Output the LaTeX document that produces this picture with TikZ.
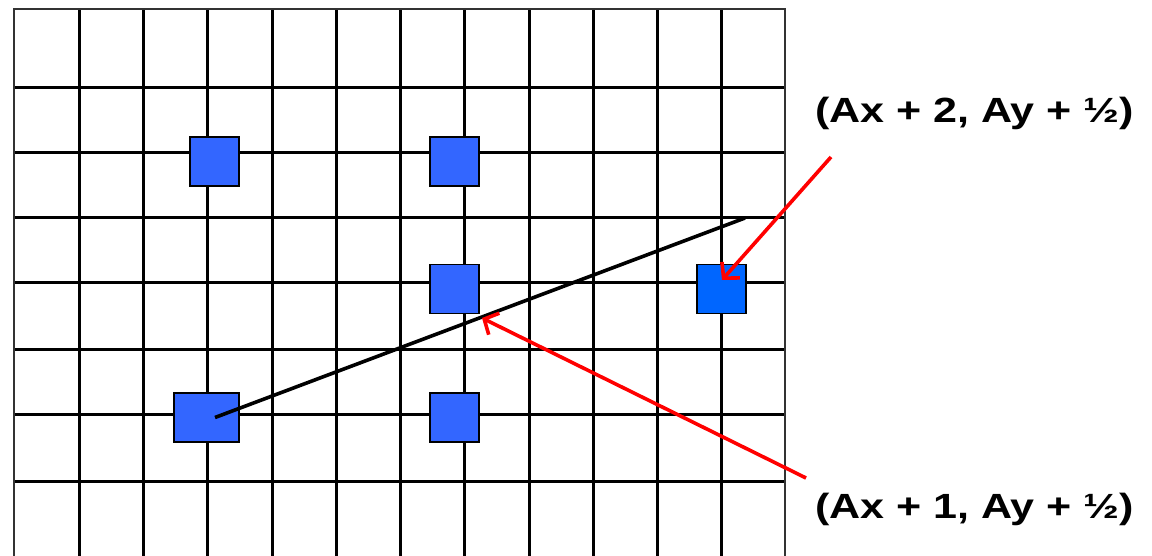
\documentclass[tikz,border=0pt]{standalone}
\usepackage{fontspec}
\setmainfont{Liberation Sans}
\usetikzlibrary{arrows.meta}
\definecolor{sqblue}{RGB}{51,102,255}
\definecolor{sqbright}{RGB}{0,102,255}
\tikzset{
  gridline/.style={line width=3pt, black},
  cell/.style={draw=black, line width=1.6pt, fill=sqblue, inner sep=0pt, minimum width=49pt, minimum height=49pt},
  redarrow/.style={draw=red, line width=3.6pt, -{Straight Barb[length=11pt,width=24pt,line width=3.6pt]}},
  lbl/.style={font=\fontsize{35}{42}\selectfont\bfseries, inner sep=0pt, anchor=base west},
}
\begin{document}
\begin{tikzpicture}[x=1pt,y=-1pt]
\useasboundingbox (0,0) rectangle (1152,556);
% vertical grid lines
\foreach \x in {79,143,207,272,336,400,464,529,593,657,721}
  \draw[gridline] (\x,9) -- (\x,556);
% horizontal grid lines
\foreach \y in {88,153,218,283,349,414,481}
  \draw[gridline] (14,\y) -- (785,\y);
% outer border (open at bottom)
\draw[line width=2.4pt, black!80] (14,556) -- (14,9) -- (785,9) -- (785,556);
% squares
\node[cell] (s1) at (214.5,161.5) {};
\node[cell] (s2) at (454.5,161.5) {};
\node[cell] (s3) at (454.5,289) {};
\node[cell, fill=sqbright] (s4) at (721.5,289) {};
\node[cell, minimum width=65pt] (s5) at (206.5,417.5) {};
\node[cell] (s6) at (454.5,417.5) {};
% black line
\coordinate (lineend) at (745,218);
\path (s5.center) ++(8.5,0) coordinate (linestart);
\draw[line width=3.6pt, black] (linestart) -- (lineend);
% labels
\node[lbl] (l1) at (815,123) {\scalebox{1.23}[1]{(Ax + 2, Ay + ½)}};
\node[lbl] (l2) at (815,518) {\scalebox{1.23}[1]{(Ax + 1, Ay + ½)}};
% red arrows
\coordinate (a1s) at (831,157);
\coordinate (a1e) at (722,280);
\coordinate (a2s) at (806,478);
\coordinate (a2e) at (482,318);
\draw[redarrow] (a1s) -- (a1e);
\draw[redarrow] (a2s) -- (a2e);
\end{tikzpicture}
\end{document}
